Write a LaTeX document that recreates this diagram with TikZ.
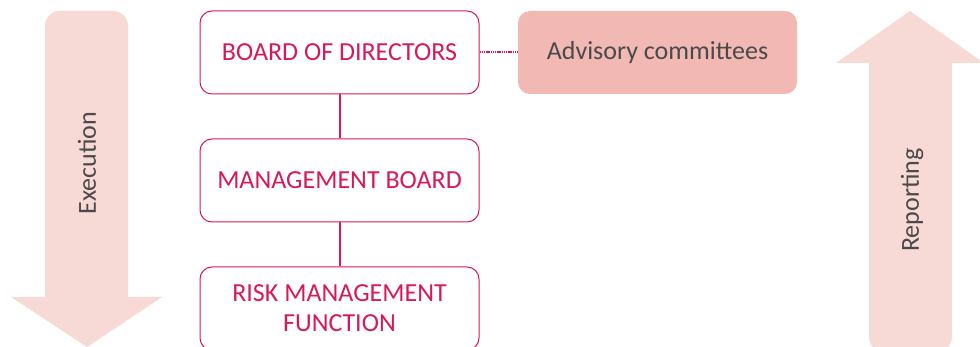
\documentclass[tikz,border=0pt]{standalone}
\usepackage{fontspec}
\setmainfont{Carlito}
\usetikzlibrary{positioning}

\definecolor{crimson}{HTML}{D7195A}
\definecolor{blush}{HTML}{F7D9D6}
\definecolor{salmon}{HTML}{F2B8B3}
\definecolor{textgray}{HTML}{4A4A4A}

\begin{document}
\begin{tikzpicture}
	[x=0.5pt,y=-0.5pt,thick,
		org box/.style={draw=crimson,line width=0.5pt,rounded corners=6pt,minimum width=139.5pt,minimum height=41.5pt,text=crimson,align=center,font=\fontsize{13}{15}\selectfont,inner sep=0pt},
		side box/.style={fill=salmon,rounded corners=6pt,minimum width=139.5pt,minimum height=41.5pt,text=textgray,font=\fontsize{13}{15}\selectfont,inner sep=0pt},
		flow label/.style={text=textgray,rotate=90,font=\fontsize{13}{15}\selectfont}]

	\useasboundingbox (0,0) rectangle (980,347);

	% big arrows at the sides
	\fill[blush] (45,26) arc[start angle=180,end angle=270,radius=15] -- (113,11) arc[start angle=270,end angle=360,radius=15] -- (128,297) -- (162,297) -- (87,347) -- (11,297) -- (45,297) -- cycle;
	\fill[blush] (910,11) -- (984,63) -- (952,63) -- (952,337) arc[start angle=0,end angle=90,radius=15] -- (884,352) arc[start angle=90,end angle=180,radius=15] -- (869,63) -- (836,63) -- cycle;

	\node[flow label] (exec) at (87,163) {Execution};
	\node[flow label] (rep) at (912,200) {Reporting};

	\node[org box]    (bod)  at (339.5,52.5)  {BOARD OF DIRECTORS};
	\node[org box]    (mb)   at (339.5,180.5) {MANAGEMENT BOARD};
	\node[org box]    (rmf)  at (339.5,308.5) {RISK MANAGEMENT\\FUNCTION};
	\node[side box]   (adv)  at (657.5,52.5)  {Advisory committees};

	\path[draw=crimson,line width=1pt]
	(bod) edge (mb)
	(mb) edge (rmf)
	(bod) edge [dash pattern=on 0.75pt off 0.35pt] (adv)
	;

\end{tikzpicture}
\end{document}
